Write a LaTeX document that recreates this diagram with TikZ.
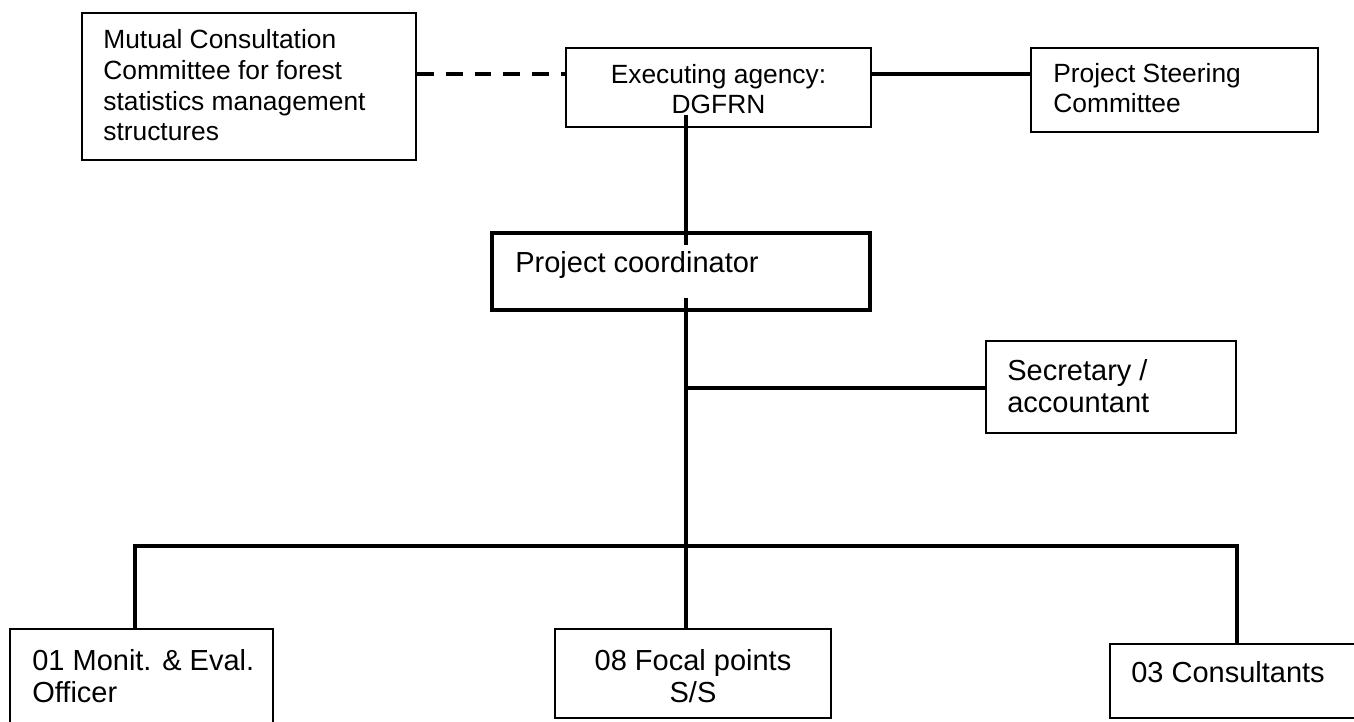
\documentclass[tikz,border=0pt]{standalone}
\usepackage{fontspec}
\setmainfont{Liberation Sans}
\usetikzlibrary{fit}

\tikzset{
  box/.style={draw, line width=1.1pt, inner sep=0pt},
  headbox/.style={draw, line width=2.3pt, inner sep=0pt},
  link/.style={line width=1.9pt},
  buslink/.style={line width=2.1pt},
  dashlink/.style={line width=2.1pt, dash pattern=on 9.6pt off 6.8pt},
  smalltxt/.style={font=\fontsize{15}{17.6}\selectfont, inner sep=0pt, align=left},
  largetxt/.style={font=\fontsize{16.5}{18.2}\selectfont, inner sep=0pt, align=left},
}

\begin{document}
\begin{tikzpicture}[x=0.02cm, y=-0.02cm]
    \useasboundingbox (0,0) rectangle (1354,722);
    \clip (0,0) rectangle (1354,722);

    % Top row
    \node[box, fit={(82,13) (416,160)}] (mcc) {};
    \node[smalltxt, anchor=base west] (mcc-t) at (103,141)
        {Mutual Consultation\\Committee for forest\\statistics management\\structures};
    \node[box, fit={(566,48) (871,127)}] (exec) {};
    \node[smalltxt, anchor=base, align=center] (exec-t) at (718.5,114) {Executing agency:\\DGFRN};
    \node[box, fit={(1031,48) (1318,132)}] (psc) {};
    \node[smalltxt, anchor=base west] (psc-t) at (1053,113) {Project Steering\\Committee};

    % Coordinator and secretary
    \node[headbox, fit={(492,233) (870,310)}] (pc) {};
    \node[largetxt, anchor=base west] (pc-t) at (515,273) {Project coordinator};
    \node[box, fit={(986,341) (1236,433)}] (sec) {};
    \node[largetxt, anchor=base west] (sec-t) at (1007,412) {Secretary /\\accountant};

    % Bottom row
    \node[box, fit={(10,629) (273,735)}] (mon) {};
    \node[largetxt, anchor=base west] (mon-t) at (32,702) {01 Monit. \& Eval.\\Officer};
    \node[box, fit={(555,629) (831,718)}] (foc) {};
    \node[largetxt, anchor=base, align=center] (foc-t) at (693,702) {08 Focal points\\S/S};
    \node[box, fit={(1110,644) (1370,718)}] (con) {};
    \node[largetxt, anchor=base west] (con-t) at (1131,682) {03 Consultants};

    % Connectors
    \coordinate (lvl) at (0,74);
    \coordinate (t0) at (686,115);
    \coordinate (t1) at (686,245);
    \coordinate (t2) at (686,298);
    \coordinate (split) at (686,388);
    \coordinate (bus) at (686,546);
    \coordinate (busL) at (135,546);
    \coordinate (busR) at (1237,546);

    \draw[dashlink] (mcc.east |- lvl) -- (exec.west |- lvl);
    \draw[link] (exec.east |- lvl) -- (psc.west |- lvl);
    \draw[link] (t0) -- (t1);
    \draw[link] (t2) -- (bus |- foc.north);
    \draw[link] (split) -- (split -| sec.west);
    \draw[buslink] (busL |- mon.north) -- (busL) -- (busR) -- (busR |- con.north);
\end{tikzpicture}
\end{document}
